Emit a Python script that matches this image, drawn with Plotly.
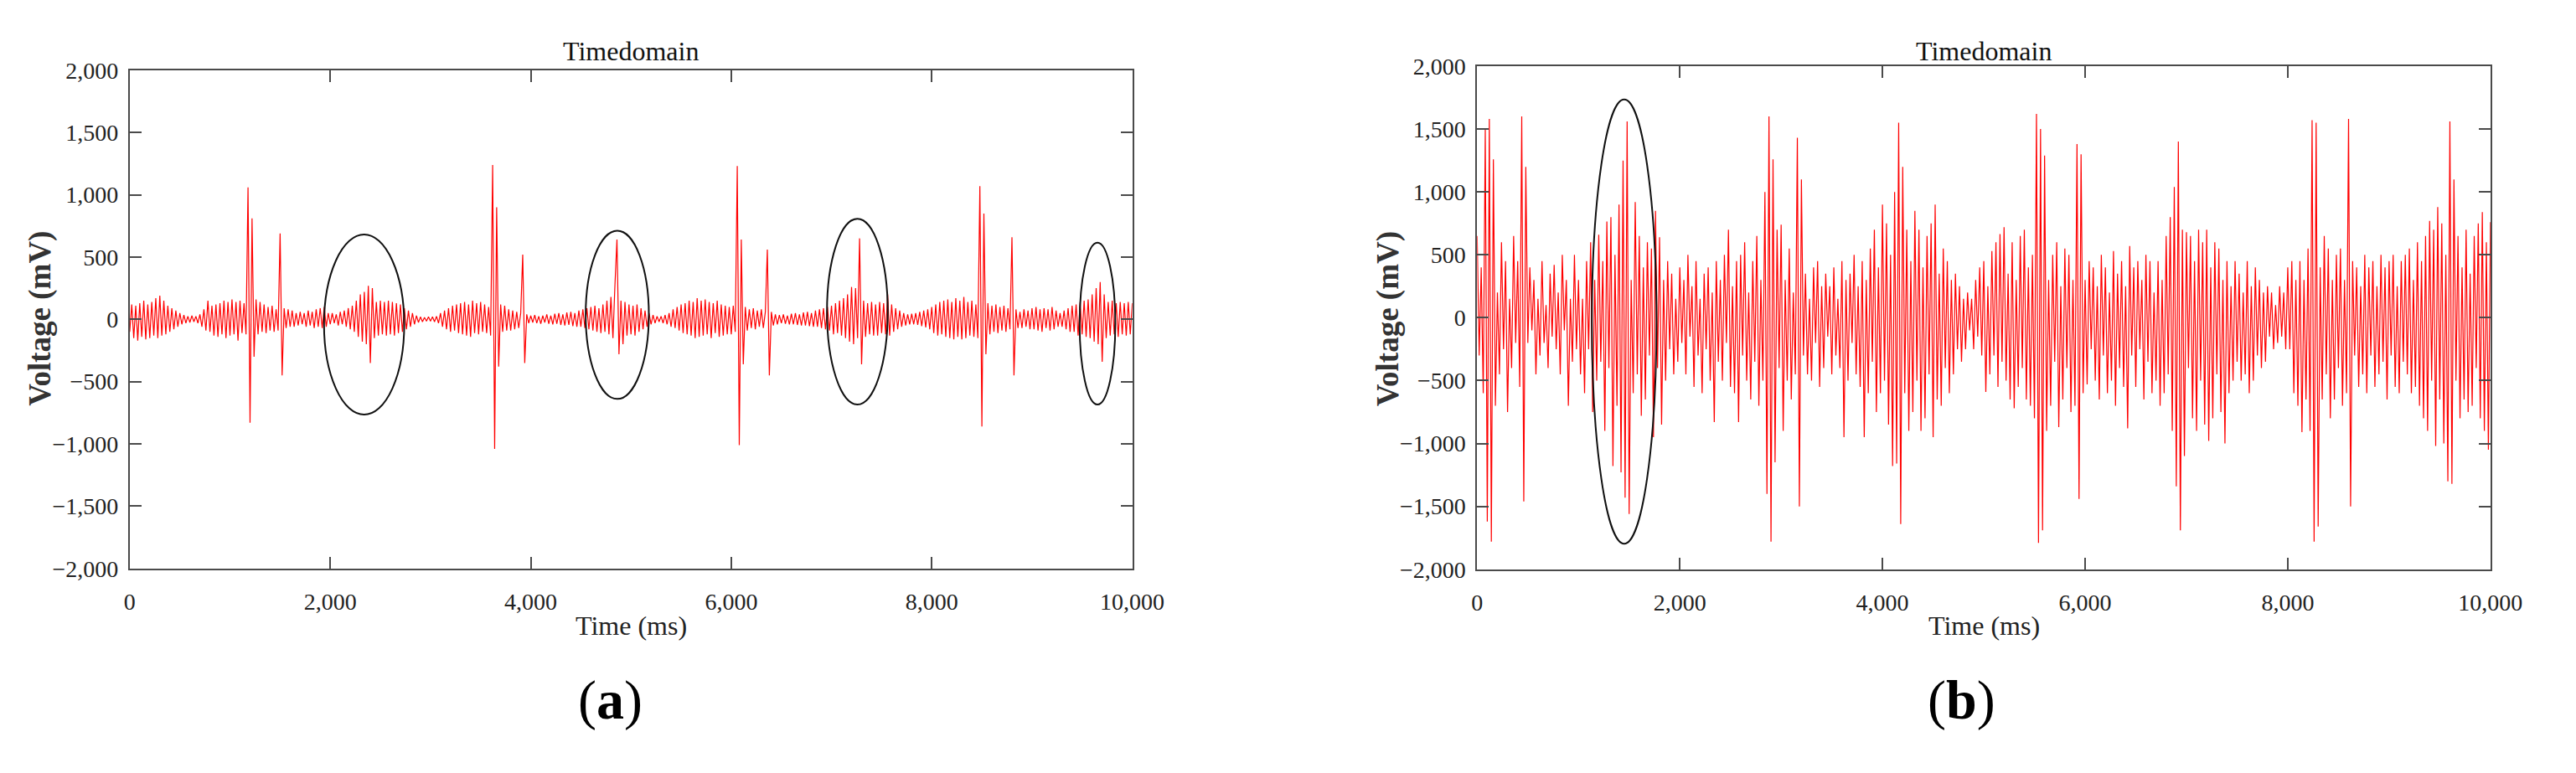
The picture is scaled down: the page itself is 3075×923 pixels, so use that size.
import plotly.graph_objects as go

# ---------------- data ----------------
SAMPLE_STEP_MS = 20

# panel (a): voltage samples in mV, one every 20 ms from 0 to 10,000 ms
volt_a = [
    -100, 120, -150, 110, -170, 130, -140, 150, -160, 120,
    -150, 140, -130, 170, -150, 190, -130, 150, -120, 110,
    -100, 90, -80, 70, -60, 50, -40, 35, -30, 25,
    -25, 30, -20, 25, -30, 40, -60, 80, -90, 150,
    -100, 110, -130, 120, -140, 130, -120, 150, -150, 140,
    -130, 160, -120, 140, -170, 150, -110, 130, -120, 1060,
    -830, 810, -300, 160, -120, 140, -100, 120, -110, 100,
    -90, 110, -100, 80, -90, 690, -450, 90, -70, 80,
    -60, 70, -60, 50, -50, 60, -40, 50, -60, 70,
    -50, 60, -70, 80, -60, 90, -70, 100, -60, 50,
    -40, 50, -30, 40, -50, 60, -40, 70, -60, 90,
    -80, 110, -100, 150, -140, 200, -180, 220, -200, 270,
    -350, 250, -150, 140, -130, 150, -120, 140, -130, 150,
    -120, 140, -130, 130, -110, 120, -100, 90, -80, 70,
    -60, 50, -40, 30, -25, 20, -20, 15, -15, 20,
    -15, 20, -20, 25, -30, 50, -60, 70, -80, 90,
    -100, 110, -90, 120, -110, 130, -120, 140, -130, 120,
    -140, 150, -110, 130, -120, 140, -100, 120, -110, 100,
    -130, 1240, -1040, 900, -380, 120, -100, 110, -90, 80,
    -90, 70, -80, 60, -70, 50, 520, -350, 40, -30,
    30, -25, 35, -30, 25, -35, 30, -25, 40, -35,
    30, -40, 45, -35, 50, -45, 40, -50, 55, -45,
    60, -55, 50, -60, 70, -60, 80, -70, 90, -80,
    100, -90, 110, -100, 90, -110, 120, -100, 150, -120,
    180, -150, 280, 640, -280, 150, -200, 140, -130, 120,
    -120, 110, -130, 120, -100, 90, -80, 70, -60, 50,
    -40, 35, -30, 25, -20, 25, -30, 35, -40, 50,
    -60, 80, -70, 100, -90, 120, -110, 130, -120, 150,
    -130, 140, -150, 170, -140, 150, -130, 160, -120, 140,
    -150, 130, -110, 150, -140, 120, -130, 110, -120, 100,
    -120, 110, -100, 1230, -1010, 640, -360, 100, -90, 80,
    -70, 90, -80, 70, -60, 80, -70, 60, 560, -450,
    60, -50, 40, -40, 35, -30, 40, -35, 30, -40,
    45, -40, 50, -45, 40, -50, 55, -50, 60, -55,
    50, -60, 70, -60, 80, -70, 90, -80, 100, -90,
    110, -120, 130, -110, 150, -130, 170, -150, 200, -180,
    260, -200, 250, -150, 650, -360, 150, -140, 130, -120,
    140, -130, 120, -130, 140, -110, 130, -120, 200, -130,
    120, -100, 90, -80, 70, -60, 50, -50, 40, -40,
    45, -40, 50, -45, 60, -55, 70, -65, 80, -80,
    100, -110, 120, -130, 140, -120, 150, -140, 160, -150,
    140, -160, 170, -140, 150, -160, 180, -150, 140, -130,
    150, -140, 120, -150, 1070, -860, 850, -280, 130, -120,
    110, -100, 120, -110, 100, -90, 110, -100, 90, -80,
    660, -450, 80, -70, 60, -70, 80, -60, 70, -80,
    90, -80, 100, -90, 80, -100, 90, -70, 80, -90,
    100, -80, 70, -60, 50, -60, 70, -80, 90, -100,
    110, -100, 120, -130, 140, -120, 150, -140, 160, -150,
    200, -180, 250, -200, 300, -340, 200, -150, 140, -130,
    150, -120, 130, -140, 140, -120, 130, -130, 140, -120,
    130,
]

# panel (b): voltage samples in mV, one every 20 ms from 0 to 10,000 ms
volt_b = [
    650, -300, 400, -600, 1500, -1620, 1580, -1780, 1260, -700,
    200, -450, 600, -250, 450, -750, 150, -400, 650, -200,
    450, -550, 1600, -1460, 1200, -200, 400, -100, 300, -450,
    150, -300, 450, -200, 100, -400, 350, -150, 420, -250,
    200, -450, 500, -100, 300, -700, 150, -350, 500, -250,
    300, -450, 150, -600, 450, -250, 600, -750, 300, -500,
    660, -350, 450, -900, 765, -400, 800, -1180, 500, -700,
    900, -1230, 1250, -1430, 1560, -1560, 300, -600, 920, -450,
    650, -780, 400, -650, 600, -300, 550, -950, 850, -400,
    640, -850, 300, -500, 450, -250, 350, -450, 150, -350,
    400, -200, 300, -450, 500, -150, 250, -550, 450, -300,
    150, -600, 350, -250, 400, -500, 200, -830, 450, -350,
    300, -500, 500, -200, 700, -550, 250, -600, 450, -830,
    500, -300, 600, -500, 200, -650, 450, -350, 650, -700,
    300, -500, 1000, -1400, 1600, -1780, 1260, -1150, 700, -400,
    740, -900, 300, -500, 550, -650, 200, -450, 1430, -1500,
    1100, -300, 350, -450, 150, -500, 400, -200, 450, -550,
    250, -400, 350, -150, 250, -450, 400, -300, 150, -400,
    450, -950, 300, -500, 350, -200, 500, -450, 250, -550,
    450, -950, 300, -600, 550, -350, 700, -750, 400, -600,
    900, -500, 750, -850, 500, -1180, 1000, -1160, 1550, -1640,
    1200, -600, 700, -900, 450, -750, 850, -500, 700, -900,
    400, -800, 650, -450, 750, -950, 900, -650, 350, -700,
    550, -400, 450, -600, 300, -450, 350, -250, 250, -350,
    150, -250, 200, -100, 150, -250, 300, -150, 400, -300,
    450, -590, 250, -450, 530, -300, 600, -550, 665, -350,
    720, -500, 350, -650, 600, -720, 300, -550, 650, -400,
    700, -650, 400, -700, 500, -800, 1620, -1790, 1500, -1690,
    1290, -900, 300, -700, 500, -350, 600, -870, 250, -650,
    550, -400, 500, -750, 300, -700, 1380, -1440, 1300, -600,
    300, -530, 450, -250, 400, -500, 250, -650, 500, -300,
    400, -600, 200, -500, 530, -700, 350, -400, 450, -550,
    250, -880, 570, -300, 400, -550, 450, -250, 300, -650,
    500, -350, 450, -600, 200, -500, 450, -700, 300, -600,
    650, -450, 800, -900, 1040, -1340, 1400, -1690, 700, -1100,
    680, -400, 650, -800, 450, -900, 700, -500, 600, -850,
    700, -980, 400, -800, 600, -450, 550, -750, 300, -1000,
    450, -600, 250, -500, 450, -350, 350, -500, 200, -450,
    450, -600, 250, -500, 400, -300, 300, -400, 200, -350,
    250, -150, 200, -250, 100, -200, 250, -150, 200, -250,
    400, -250, 450, -600, 300, -700, 450, -910, 300, -650,
    550, -900, 1570, -1780, 1550, -1660, 400, -650, 650, -450,
    550, -800, 300, -650, 500, -400, 550, -700, 300, -600,
    1580, -1500, 450, -300, 400, -550, 250, -450, 500, -600,
    400, -300, 450, -550, 250, -450, 500, -350, 400, -650,
    450, -300, 500, -550, 250, -600, 450, -350, 500, -450,
    550, -600, 300, -550, 600, -700, 450, -800, 650, -900,
    770, -500, 700, -1020, 880, -650, 750, -1000, 500, -1300,
    1560, -1320, 1100, -500, 650, -800, 400, -650, 700, -750,
    350, -700, 650, -400, 750, -800, 840, -900, 600, -1050,
    760,
]

time_a = [i * SAMPLE_STEP_MS for i in range(len(volt_a))]
time_b = [i * SAMPLE_STEP_MS for i in range(len(volt_b))]

# highlighted regions (ellipses), in data units (ms, mV)
ell_a_t_center = [2338, 4863, 7258, 9653]
ell_a_t_half = [400, 315, 303, 178]
ell_a_v_top = [681, 711, 808, 616]
ell_a_v_bottom = [-765, -639, -684, -684]

ell_b_t_center = [1451]
ell_b_t_half = [319]
ell_b_v_top = [1735]
ell_b_v_bottom = [-1797]

x_ticks = [0, 2000, 4000, 6000, 8000, 10000]
y_ticks = [-2000, -1500, -1000, -500, 0, 500, 1000, 1500, 2000]
panel_labels = ["a", "b"]
plot_title = "Timedomain"
x_title = "Time (ms)"
y_title = "Voltage (mV)"

# ---------------- figure ----------------
# the page body has an 8 px margin, so the figure is 16 px smaller than the window
OFF = 8
W, H = 3075 - 2 * OFF, 923 - 2 * OFF
SERIF = "Liberation Serif, Times New Roman, serif"
AX_COLOR = "#4a4a4a"

fig = go.Figure()
fig.add_trace(go.Scatter(x=time_a, y=volt_a, mode="lines",
                         line=dict(color="#ff0000", width=1.2),
                         xaxis="x", yaxis="y", showlegend=False))
fig.add_trace(go.Scatter(x=time_b, y=volt_b, mode="lines",
                         line=dict(color="#ff0000", width=1.2),
                         xaxis="x2", yaxis="y2", showlegend=False))

# panel placement in window pixels
pa = dict(l=150, r=1365, t=71, b=687)
pb = dict(l=1783, r=3011, t=66, b=688)


def px(v):
    return v - OFF


def xdom(p):
    return [px(p["l"]) / W, px(p["r"]) / W]


def ydom(p):
    return [1 - px(p["b"]) / H, 1 - px(p["t"]) / H]


axis_common = dict(
    showline=True, linecolor=AX_COLOR, linewidth=2, mirror="ticks",
    ticks="inside", ticklen=14, tickwidth=2, tickcolor=AX_COLOR,
    showgrid=False, zeroline=False, tickformat=",",
    tickfont=dict(family=SERIF, size=28, color="#222222"),
)

fig.update_layout(
    width=W, height=H,
    margin=dict(l=0, r=0, t=0, b=0),
    paper_bgcolor="white", plot_bgcolor="white",
    xaxis=dict(domain=xdom(pa), range=[0, 10000], tickvals=x_ticks,
               anchor="y", ticklabelstandoff=14, **axis_common),
    yaxis=dict(domain=ydom(pa), range=[-2000, 2000], tickvals=y_ticks,
               anchor="x", ticklabelstandoff=6, **axis_common),
    xaxis2=dict(domain=xdom(pb), range=[0, 10000], tickvals=x_ticks,
                anchor="y2", ticklabelstandoff=14, **axis_common),
    yaxis2=dict(domain=ydom(pb), range=[-2000, 2000], tickvals=y_ticks,
                anchor="x2", ticklabelstandoff=6, **axis_common),
)

shapes = []
for i in range(len(ell_a_t_center)):
    shapes.append(dict(type="circle", xref="x", yref="y",
                       x0=ell_a_t_center[i] - ell_a_t_half[i],
                       x1=ell_a_t_center[i] + ell_a_t_half[i],
                       y0=ell_a_v_bottom[i], y1=ell_a_v_top[i],
                       line=dict(color="#111111", width=2)))
for i in range(len(ell_b_t_center)):
    shapes.append(dict(type="circle", xref="x2", yref="y2",
                       x0=ell_b_t_center[i] - ell_b_t_half[i],
                       x1=ell_b_t_center[i] + ell_b_t_half[i],
                       y0=ell_b_v_bottom[i], y1=ell_b_v_top[i],
                       line=dict(color="#111111", width=2)))
fig.update_layout(shapes=shapes)

annotations = []
for p, lab, lab_x in ((pa, panel_labels[0], 732), (pb, panel_labels[1], 2370)):
    cx = (p["l"] + p["r"]) / 2
    annotations.append(dict(text=plot_title, x=px(cx) / W, y=1 - px(47) / H,
                            xref="paper", yref="paper", showarrow=False,
                            xanchor="center", yanchor="middle",
                            font=dict(family=SERIF, size=32, color="#111111")))
    annotations.append(dict(text=x_title, x=px(cx) / W, y=1 - px(758) / H,
                            xref="paper", yref="paper", showarrow=False,
                            xanchor="center", yanchor="middle",
                            font=dict(family=SERIF, size=32, color="#222222")))
    annotations.append(dict(text="<b>" + y_title + "</b>", x=px(p["l"] - 108) / W,
                            y=1 - px(378) / H, xref="paper", yref="paper",
                            showarrow=False, textangle=-90,
                            xanchor="center", yanchor="middle",
                            font=dict(family=SERIF, size=37, color="#333333")))
    annotations.append(dict(text="(<b>" + lab + "</b>)", x=px(lab_x) / W,
                            y=1 - px(850) / H, xref="paper", yref="paper",
                            showarrow=False, xanchor="center", yanchor="middle",
                            font=dict(family=SERIF, size=66, color="#000000")))
fig.update_layout(annotations=annotations)

fig.write_html("out.html")
